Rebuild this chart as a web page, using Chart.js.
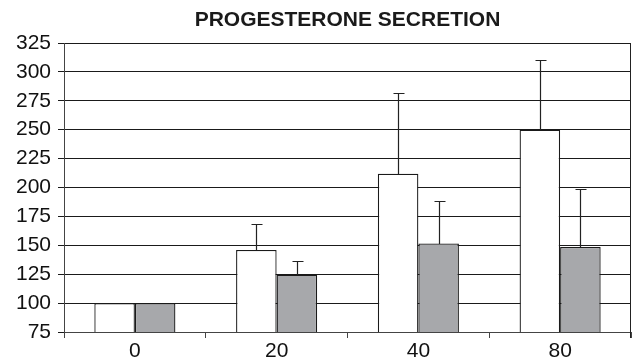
<!DOCTYPE html>
<html>
<head>
<meta charset="utf-8">
<script src="https://cdn.jsdelivr.net/npm/chart.js@4"></script>
<style>
  html, body { margin: 0; padding: 0; background: #fff; }
  #wrap { width: 638px; height: 358px; }
</style>
</head>
<body>
<div id="wrap"><canvas id="c" width="638" height="358"></canvas></div>
<script>
const chartTitle = 'PROGESTERONE SECRETION';
const categories = ['0', '20', '40', '80'];
const seriesWhite = [100, 146, 212, 250];
const seriesWhiteErr = [0, 22, 70, 60];
const seriesGray = [100, 124.5, 151.5, 148.5];
const seriesGrayErr = [0, 11.5, 37, 50.5];
const yMin = 75, yMax = 325, yStep = 25;

const FONT = '"Liberation Sans", Arial, sans-serif';

const errorBars = {
  id: 'errorBars',
  afterDatasetsDraw(chart) {
    const ctx = chart.ctx;
    const ys = chart.scales.y;
    ctx.save();
    ctx.strokeStyle = '#222';
    ctx.lineWidth = 1.2;
    chart.data.datasets.forEach((ds, i) => {
      const meta = chart.getDatasetMeta(i);
      meta.data.forEach((bar, j) => {
        const e = ds.errors[j];
        if (!e) return;
        const x = Math.round(bar.x) + 0.5;
        const yTop = Math.round(ys.getPixelForValue(ds.data[j] + e)) + 0.5;
        const yBase = Math.round(bar.y);
        ctx.beginPath();
        ctx.moveTo(x, yBase);
        ctx.lineTo(x, yTop);
        ctx.moveTo(x - 5, yTop);
        ctx.lineTo(x + 6, yTop);
        ctx.stroke();
      });
    });
    ctx.restore();
  }
};

const frameAndTitle = {
  id: 'frameAndTitle',
  afterDraw(chart) {
    const ctx = chart.ctx;
    const a = chart.chartArea;
    ctx.save();
    ctx.strokeStyle = '#222';
    ctx.lineWidth = 1;
    const xr = Math.round(a.right) - 0.5;
    ctx.beginPath();
    ctx.moveTo(xr, a.top);
    ctx.lineTo(xr, a.bottom + 6);
    ctx.stroke();
    ctx.fillStyle = '#1a1a1a';
    ctx.font = 'bold 21px ' + FONT;
    ctx.textAlign = 'center';
    ctx.textBaseline = 'middle';
    ctx.fillText(chartTitle, (a.left + a.right) / 2, 20);
    ctx.restore();
  }
};

new Chart(document.getElementById('c'), {
  type: 'bar',
  data: {
    labels: categories,
    datasets: [
      {
        data: seriesWhite,
        errors: seriesWhiteErr,
        backgroundColor: '#ffffff',
        borderColor: '#1a1a1a',
        borderWidth: 1.3,
        borderSkipped: 'start'
      },
      {
        data: seriesGray,
        errors: seriesGrayErr,
        backgroundColor: '#a7a8ab',
        borderColor: '#1a1a1a',
        borderWidth: 1.3,
        borderSkipped: 'start'
      }
    ]
  },
  options: {
    responsive: false,
    animation: false,
    devicePixelRatio: 1,
    datasets: { bar: { barPercentage: 1, categoryPercentage: 0.572 } },
    layout: { padding: { top: 43, right: 7, left: 0, bottom: 0 } },
    plugins: {
      legend: { display: false },
      tooltip: { enabled: false },
      title: { display: false }
    },
    scales: {
      x: {
        offset: true,
        grid: { offset: true, drawOnChartArea: false, drawTicks: true, tickLength: 6, color: '#444', lineWidth: 1 },
        border: { display: true, color: '#444', width: 1 },
        ticks: { color: '#111', font: { family: FONT, size: 21 }, padding: 1, maxRotation: 0 },
        afterFit(s) { s.height = 26; }
      },
      y: {
        min: yMin,
        max: yMax,
        grid: { color: '#1a1a1a', lineWidth: 1, tickLength: 6, drawTicks: true },
        border: { display: true, color: '#444', width: 1 },
        ticks: { stepSize: yStep, color: '#111', font: { family: FONT, size: 21 }, padding: 7 },
        afterFit(s) { s.width = 64; }
      }
    }
  },
  plugins: [errorBars, frameAndTitle]
});
</script>
</body>
</html>
